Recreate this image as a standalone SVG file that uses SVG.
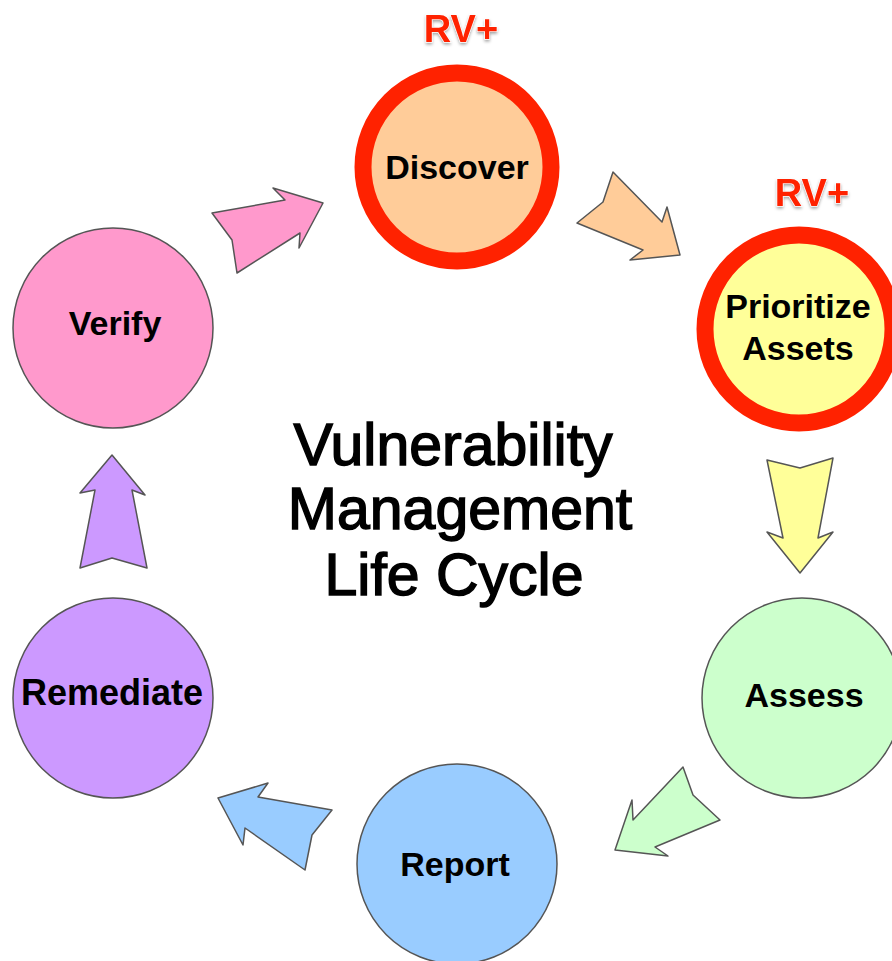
<svg xmlns="http://www.w3.org/2000/svg" width="892" height="961" viewBox="0 0 892 961">
<defs>
<filter id="sh" x="-20%" y="-20%" width="140%" height="160%">
<feDropShadow dx="0" dy="2" stdDeviation="1.5" flood-color="#000" flood-opacity="0.35"/>
</filter>
</defs>
<style>
.node{stroke:#555;stroke-width:1.5}
.ring{stroke:#ff2200;stroke-width:17}
.lbl{font-family:"Liberation Sans",Arial,sans-serif;font-weight:bold;font-size:34px;fill:#000;text-anchor:middle}
.rv{font-family:"Liberation Sans",Arial,sans-serif;font-weight:bold;font-size:38px;fill:#ff2200;text-anchor:middle;stroke:#fff;stroke-width:1;paint-order:stroke;filter:url(#sh)}
.title{font-family:"Liberation Sans",Arial,sans-serif;font-size:59px;fill:#000;stroke:#000;stroke-width:1.5;text-anchor:middle}
.arr{stroke:#555;stroke-width:1.5;stroke-linejoin:round}
</style>
<rect width="892" height="961" fill="#fff"/>
<g id="connectors">
<polygon class="arr" fill="#ff99cc" points="212,213 285,200 273,188 323,203 299,248 300,233 237,273 232,240"/>
<polygon class="arr" fill="#ffcc99" points="613,172 603,202 577,223 643,250 630,260 680,255 667,207 662,222"/>
<polygon class="arr" fill="#ffff99" points="767,460 800,468 833,458 818,538 833,532 800,573 767,532 783,538"/>
<polygon class="arr" fill="#ccffcc" points="683,767 693,795 720,820 655,847 668,856 615,850 632,800 633,820"/>
<polygon class="arr" fill="#99ccff" points="218,798 268,783 258,797 332,810 312,835 305,870 245,828 243,845"/>
<polygon class="arr" fill="#cc99ff" points="112,455 80,493 95,490 80,568 112,558 147,568 132,490 145,495"/>
</g>
<g id="discover">
<circle class="ring" cx="457" cy="167" r="94" fill="#ffcc99"/>
<text class="lbl" x="457" y="179">Discover</text>
<text class="rv" x="461" y="42">RV+</text>
</g>
<g id="prioritize">
<circle class="ring" cx="799" cy="329" r="94" fill="#ffff99"/>
<text class="lbl" x="798" y="318">Prioritize</text>
<text class="lbl" x="798" y="360">Assets</text>
<text class="rv" x="812" y="206">RV+</text>
</g>
<g id="assess">
<circle class="node" cx="802" cy="698" r="100" fill="#ccffcc"/>
<text class="lbl" x="804" y="707">Assess</text>
</g>
<g id="report">
<circle class="node" cx="457" cy="864" r="100" fill="#99ccff"/>
<text class="lbl" x="455" y="876">Report</text>
</g>
<g id="remediate">
<circle class="node" cx="113" cy="698" r="100" fill="#cc99ff"/>
<text class="lbl" x="112" y="705" style="font-size:36px">Remediate</text>
</g>
<g id="verify">
<circle class="node" cx="113" cy="328" r="100" fill="#ff99cc"/>
<text class="lbl" x="115" y="335">Verify</text>
</g>
<g id="title">
<text class="title" x="453" y="465">Vulnerability</text>
<text class="title" x="460" y="529">Management</text>
<text class="title" x="454" y="595">Life Cycle</text>
</g>
</svg>
